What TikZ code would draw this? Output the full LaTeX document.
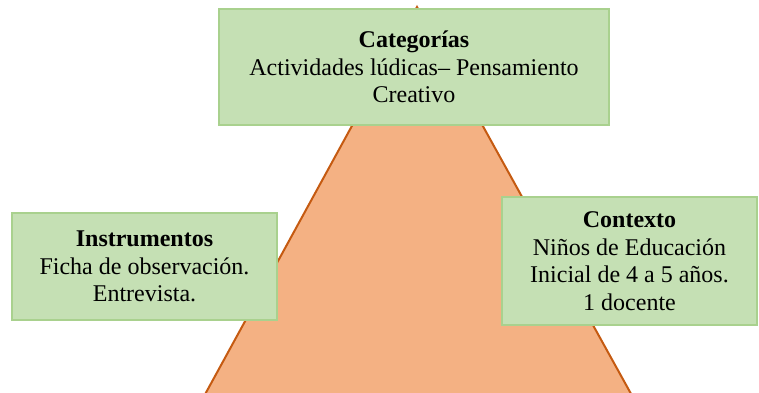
\documentclass[tikz,border=0pt]{standalone}
\usepackage{fontspec}
\setmainfont{Liberation Serif}
\definecolor{boxfill}{HTML}{C5E0B4}
\definecolor{boxline}{HTML}{A9D18E}
\definecolor{trifill}{HTML}{F4B183}
\definecolor{triline}{HTML}{C55A11}
\begin{document}
\begin{tikzpicture}[x=1pt,y=-1pt,
  gbox/.style={draw=boxline, line width=1.5pt, fill=boxfill, align=center,
    inner sep=0pt, font=\fontsize{24}{27.5}\selectfont, text=black}]
\useasboundingbox (0,0) rectangle (759,392);
\clip (0,0) rectangle (759,392);
\filldraw[fill=trifill, draw=triline, line width=2pt, line join=miter]
  (417,7) -- (645.5,420) -- (191,420) -- cycle;
\node[gbox, minimum width=390pt, minimum height=116pt] (cat) at (414,67)
  {\textbf{Categorías}\\Actividades lúdicas– Pensamiento\\Creativo};
\node[gbox, minimum width=265pt, minimum height=107pt] (ins) at (144.5,266.5)
  {\textbf{Instrumentos}\\Ficha de observación.\\Entrevista.};
\node[gbox, minimum width=255pt, minimum height=128pt] (ctx) at (629.5,261)
  {\textbf{Contexto}\\Niños de Educación\\Inicial de 4 a 5 años.\\1 docente};
\end{tikzpicture}
\end{document}
